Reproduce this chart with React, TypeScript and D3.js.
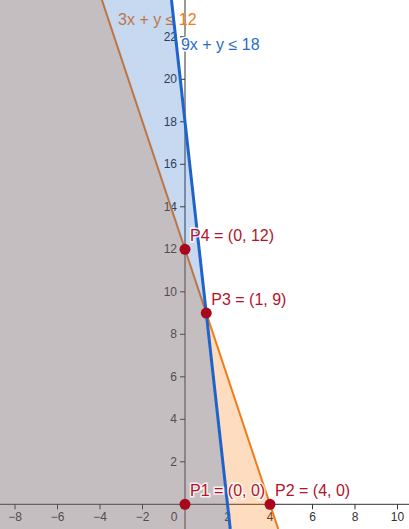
import * as React from "react";
import * as d3 from "d3";

// inequalities a*x + y <= rhs
const ineqLabels = ["3x + y ≤ 12", "9x + y ≤ 18"];
const ineqCoefX = [3, 9];
const ineqRhs = [12, 18];

const pointNames = ["P1", "P2", "P3", "P4"];
const pointX = [0, 4, 1, 0];
const pointY = [0, 0, 9, 12];

const xTicks = [-8, -6, -4, -2, 0, 2, 4, 6, 8, 10];
const yTicks = [2, 4, 6, 8, 10, 12, 14, 16, 18, 20, 22];

const W = 409;
const H = 529;
const FONT = "Liberation Sans, Arial, sans-serif";

const lineColors = ["#f07d1a", "#1f64c8"];
const fillColors = ["#f77300", "#1f64c8"];
const textColors = ["#f07d1a", "#2a6cc4"];

export default function App() {
  const x = d3.scaleLinear().domain([-8.706, 10.541]).range([0, W]);
  const y = d3.scaleLinear().domain([-1.162, 23.732]).range([H, 0]);
  const [x0, x1] = x.domain();
  const [y0, y1] = y.domain();

  const lineGen = d3
    .line<[number, number]>()
    .x((d) => x(d[0]))
    .y((d) => y(d[1]));

  // half-plane a*x + y <= rhs clipped to the view, as a polygon
  const halfPlane = (a: number, rhs: number): [number, number][] => {
    const xt = (rhs - y1) / a;
    const xb = (rhs - y0) / a;
    return [
      [x0, y1],
      [xt, y1],
      [xb, y0],
      [x0, y0],
    ];
  };

  const boundary = (i: number) =>
    lineGen([
      [(ineqRhs[i] - y1) / ineqCoefX[i], y1],
      [(ineqRhs[i] - y0) / ineqCoefX[i], y0],
    ]) ?? "";

  const labelPos = [
    { px: x(-3.15), py: y(22.55) },
    { px: x(-0.19), py: y(21.38) },
  ];

  return (
    <svg
      width={W}
      height={H}
      style={{ position: "absolute", left: 0, top: 0, background: "#fff" }}
      fontFamily={FONT}
    >
      {/* axes */}
      <line x1={0} x2={W} y1={y(0)} y2={y(0)} stroke="#333" strokeWidth={1} />
      <line x1={x(0)} x2={x(0)} y1={0} y2={H} stroke="#333" strokeWidth={1} />
      {xTicks.map((t) => (
        <g key={"x" + t}>
          {t !== 0 && (
            <line x1={x(t)} x2={x(t)} y1={y(0)} y2={y(0) + 5} stroke="#333" />
          )}
          <text
            x={t === 0 ? x(t) - 11 : x(t)}
            y={y(0) + 17}
            textAnchor="middle"
            fontSize={12}
            fill="#333"
          >
            {t < 0 ? "\u2212" + Math.abs(t) : t}
          </text>
        </g>
      ))}
      {yTicks.map((t) => (
        <g key={"y" + t}>
          <line x1={x(0) - 5} x2={x(0)} y1={y(t)} y2={y(t)} stroke="#333" />
          <text
            x={x(0) - 8}
            y={y(t) + 4}
            textAnchor="end"
            fontSize={12}
            fill="#333"
          >
            {t}
          </text>
        </g>
      ))}

      {/* orange boundary sits under the fills */}
      <path d={boundary(0)} stroke={lineColors[0]} strokeWidth={2} fill="none" />

      {/* inequality labels */}
      {ineqLabels.map((s, i) => (
        <text
          key={"t" + i}
          x={labelPos[i].px}
          y={labelPos[i].py}
          fontSize={16}
          fill={textColors[i]}
          stroke="#fff"
          strokeWidth={i === 1 ? 3 : 0}
          paintOrder="stroke"
        >
          {s}
        </text>
      ))}

      {/* shaded regions */}
      {ineqCoefX.map((a, i) => (
        <path
          key={"f" + i}
          d={lineGen(halfPlane(a, ineqRhs[i]))! + "Z"}
          fill={fillColors[i]}
          fillOpacity={0.25}
        />
      ))}

      {/* blue boundary on top */}
      <path d={boundary(1)} stroke={lineColors[1]} strokeWidth={3} fill="none" />

      {/* vertices */}
      {pointNames.map((n, i) => (
        <g key={n}>
          <circle cx={x(pointX[i])} cy={y(pointY[i])} r={5.5} fill="#a8081e" />
          <text
            x={x(pointX[i]) + 5}
            y={y(pointY[i]) - 8}
            fontSize={16}
            fill="#b3122b"
            stroke="#fff"
            strokeWidth={3}
            strokeOpacity={0.8}
            paintOrder="stroke"
          >
            {`${n} = (${pointX[i]}, ${pointY[i]})`}
          </text>
        </g>
      ))}
    </svg>
  );
}
